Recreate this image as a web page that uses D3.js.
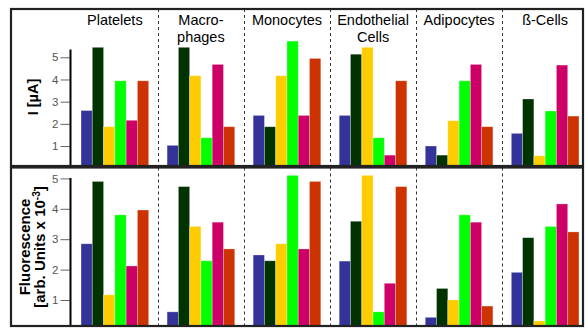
<!DOCTYPE html>
<html>
<head>
<meta charset="utf-8">
<script src="https://cdn.jsdelivr.net/npm/d3@7"></script>
<style>
  body { margin: 0; background: #fff; }
  text { font-family: "Liberation Sans", Arial, sans-serif; }
</style>
</head>
<body>
<svg id="body" width="587" height="329"></svg>
<script>
// cell types (x categories) and their header lines
const groupNames = ["Platelets", "Macrophages", "Monocytes", "Endothelial Cells", "Adipocytes", "ß-Cells"];
const groupTitles = [["Platelets"], ["Macro-", "phages"], ["Monocytes"], ["Endothelial", "Cells"], ["Adipocytes"], ["ß-Cells"]];

// six series per cell type, one colour each
const seriesColors = ["#333399", "#003300", "#ffcc00", "#00ff00", "#cc0066", "#cc3300"];

// top panel: current I [µA]
const currentValues = [
    [2.6, 5.45, 1.87, 3.94, 2.16, 3.94],
    [1.03, 5.45, 4.17, 1.37, 4.68, 1.87],
    [2.38, 1.87, 4.17, 5.73, 2.38, 4.95],
    [2.38, 5.14, 5.45, 1.37, 0.59, 3.94],
    [1.0, 0.59, 2.14, 3.94, 4.68, 1.87],
    [1.57, 3.12, 0.56, 2.58, 4.65, 2.35]
];

// bottom panel: fluorescence [arb. units x 10^-3]
const fluorescenceValues = [
    [2.85, 4.9, 1.17, 3.8, 2.12, 3.96],
    [0.61, 4.73, 3.42, 2.29, 3.56, 2.68],
    [2.48, 2.29, 2.85, 5.1, 2.68, 4.9],
    [2.28, 3.59, 5.1, 0.61, 1.55, 4.73],
    [0.43, 1.38, 1.0, 3.8, 3.56, 0.8],
    [1.91, 3.05, 0.31, 3.42, 4.16, 3.24]
];

const tickValues = [1, 2, 3, 4, 5];

let svg = d3.select("#body");

let x = d3.scaleBand()
    .domain(groupNames)
    .range([72, 588])
    .paddingInner(0.214)
    .paddingOuter(0.105);

let xs = d3.scaleBand()
    .domain(d3.range(seriesColors.length))
    .range([0, x.bandwidth()]);

let axisX = 70.5;
let left = 11, right = 583;

let panels = [
    {
        id: "top", top: 9, bottom: 166, axisTop: 49.5,
        y: d3.scaleLinear().domain([0, 5]).range([168.2, 57.3]),
        values: currentValues
    },
    {
        id: "bottom", top: 167.5, bottom: 326, axisTop: 178,
        y: d3.scaleLinear().domain([0, 5]).range([330.4, 178.4]),
        values: fluorescenceValues
    }
];

panels.forEach(p => {
    let g = svg.append("g").attr("id", p.id);

    g.append("clipPath")
        .attr("id", "clip-" + p.id)
        .append("rect")
        .attr("x", left)
        .attr("y", p.top)
        .attr("width", right - left)
        .attr("height", p.bottom - p.top);

    // dashed separators between cell types
    g.selectAll(".sep")
        .data(groupNames.slice(1))
        .enter()
        .append("line")
        .attr("class", "sep")
        .attr("x1", d => Math.round(x(d) - x.step() * x.paddingInner() / 2) + 0.5)
        .attr("x2", d => Math.round(x(d) - x.step() * x.paddingInner() / 2) + 0.5)
        .attr("y1", p.top)
        .attr("y2", p.bottom)
        .attr("stroke", "#333")
        .attr("stroke-width", 1)
        .attr("stroke-dasharray", "3,3");

    // bars
    let groups = g.append("g")
        .attr("clip-path", "url(#clip-" + p.id + ")")
        .selectAll("g")
        .data(p.values)
        .enter()
        .append("g")
        .attr("transform", (d, i) => "translate(" + x(groupNames[i]) + ",0)");

    groups.selectAll("rect")
        .data(d => d)
        .enter()
        .append("rect")
        .attr("x", (d, i) => xs(i))
        .attr("y", d => p.y(d))
        .attr("width", xs.bandwidth())
        .attr("height", d => p.y(0) - p.y(d))
        .style("fill", (d, i) => seriesColors[i])
        .style("stroke", "#fff")
        .style("stroke-opacity", 0.35)
        .style("stroke-width", 0.8);

    // y axis
    let yAxis = d3.axisLeft(p.y)
        .tickValues(tickValues)
        .tickSize(10)
        .tickPadding(2)
        .tickFormat(d3.format("d"));

    let ax = g.append("g")
        .attr("transform", "translate(" + axisX + ",0)")
        .call(yAxis);
    ax.select(".domain").remove();
    ax.selectAll(".tick line").attr("stroke", "#666");
    ax.selectAll(".tick text")
        .attr("fill", "#555")
        .style("font-size", "11.5px")
        .style("font-family", "'Liberation Sans', Arial, sans-serif");

    g.append("line")
        .attr("x1", axisX)
        .attr("x2", axisX)
        .attr("y1", p.axisTop)
        .attr("y2", p.bottom)
        .attr("stroke", "#000")
        .attr("stroke-width", 2);

    // panel frame
    g.append("rect")
        .attr("x", left)
        .attr("y", p.top)
        .attr("width", right - left)
        .attr("height", p.bottom - p.top)
        .attr("fill", "none")
        .attr("stroke", "#222")
        .attr("stroke-width", 2.2);
});

// cell type headers
let titles = svg.append("g")
    .selectAll("text")
    .data(groupTitles)
    .enter()
    .append("text")
    .attr("x", (d, i) => x(groupNames[i]) + x.bandwidth() / 2)
    .attr("y", 25)
    .attr("text-anchor", "middle")
    .style("font-size", "14.5px")
    .style("fill", "#000");

titles.selectAll("tspan")
    .data(d => d)
    .enter()
    .append("tspan")
    .attr("x", function () { return d3.select(this.parentNode).attr("x"); })
    .attr("dy", (d, i) => i === 0 ? 0 : 17)
    .text(d => d);

// y labels
svg.append("text")
    .attr("transform", "translate(38,97) rotate(-90)")
    .attr("text-anchor", "middle")
    .style("font-size", "14.5px")
    .style("font-weight", "bold")
    .text("I [µA]");

let fl = svg.append("text")
    .attr("transform", "translate(30,247) rotate(-90)")
    .attr("text-anchor", "middle")
    .style("font-size", "15px")
    .style("font-weight", "bold");
fl.append("tspan")
    .attr("x", 0)
    .text("Fluorescence");
let l2 = fl.append("tspan")
    .attr("x", 0)
    .attr("dy", 15);
l2.append("tspan").text("[arb. Units x 10");
l2.append("tspan")
    .attr("dy", -5)
    .style("font-size", "10px")
    .text("-3");
l2.append("tspan")
    .attr("dy", 5)
    .text("]");
</script>
</body>
</html>
